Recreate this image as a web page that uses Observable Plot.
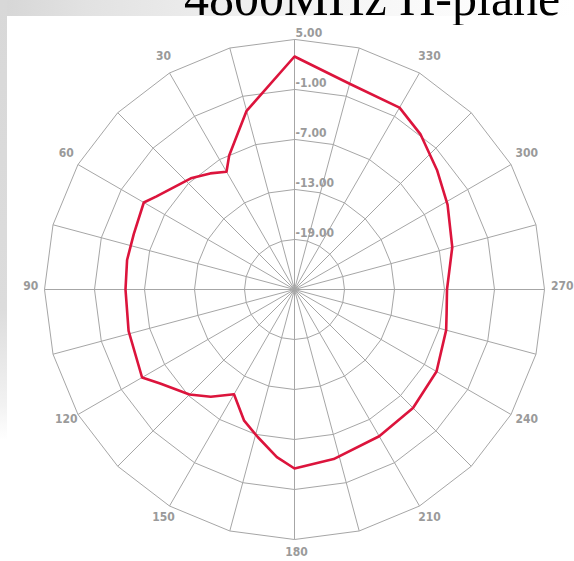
<!DOCTYPE html>
<html>
<head>
<meta charset="utf-8">
<script src="https://cdn.jsdelivr.net/npm/d3@7"></script>
<script src="https://cdn.jsdelivr.net/npm/@observablehq/plot@0.6"></script>
<style>
  html, body { margin: 0; padding: 0; background: #fff; }
  #wrap { position: relative; width: 574px; height: 561px; overflow: hidden; }
  #topstrip { position: absolute; left: 0; top: 0; width: 574px; height: 16px; z-index: 1;
    background: linear-gradient(to right, #d6d6d6 0%, #e2e2e2 15%, #ececec 35%, #f4f4f4 55%, #fafafa 75%, #ffffff 100%); }
  #leftstrip { position: absolute; left: 0; top: 0; width: 7px; height: 440px; z-index: 1;
    background: linear-gradient(to bottom, #d8d8d8 0%, #dcdcdc 70%, #f2f2f2 92%, #ffffff 100%); }
  #titlebox { position: absolute; left: 0; top: 0; width: 574px; height: 25px; overflow: hidden; z-index: 2; }
  #title { position: absolute; left: 184px; top: -22px; font-family: "Liberation Serif", "Times New Roman", serif;
    font-size: 50px; line-height: 40px; height: 40px; color: #000; white-space: nowrap; }
  #chart { position: absolute; left: 0; top: 0; }
</style>
</head>
<body>
<div id="wrap">
  <div id="chart"></div>
  <div id="topstrip"></div>
  <div id="leftstrip"></div>
  <div id="titlebox"><div id="title">4800MHz H-plane</div></div>
</div>
<script>
// ---- data ----
const titleText = "4800MHz H-plane";
const ringValues = [5, -1, -7, -13, -19];
const ringLabels = ["5.00", "-1.00", "-7.00", "-13.00", "-19.00"];
const rMin = -25;
const angleLabelValues = [30, 60, 90, 120, 150, 180, 210, 240, 270, 300, 330];
const angleLabels = ["30", "60", "90", "120", "150", "180", "210", "240", "270", "300", "330"];
const patternAngles = [0, 15, 20, 26, 30, 36, 43, 56, 60, 71, 80, 90, 104, 120, 125, 135, 142, 150, 159, 166, 174, 180, 193, 210, 225, 240, 255, 261, 270, 285, 299, 310, 321, 330, 345];
const patternGain = [2.96, -2.80, -5.08, -7.12, -8.68, -7.78, -6.76, -5.03, -4.12, -4.60, -4.60, -4.72, -4.48, -3.88, -5.32, -7.18, -8.68, -10.48, -8.14, -6.76, -4.77, -3.52, -4.12, -4.67, -4.89, -5.32, -6.16, -6.52, -6.70, -5.40, -4.00, -2.68, -1.00, 0.20, 0.56];

// ---- polar helpers (angle counter-clockwise from top) ----
const spokeAngles = d3.range(0, 360, 15);
function px(theta, v) { return -(v - rMin) * Math.sin(theta * Math.PI / 180); }
function py(theta, v) { return (v - rMin) * Math.cos(theta * Math.PI / 180); }

const ringPts = [];
ringValues.forEach(v => spokeAngles.forEach(a => ringPts.push({ring: v, x: px(a, v), y: py(a, v)})));
const spokes = spokeAngles.map(a => ({x2: px(a, ringValues[0]), y2: py(a, ringValues[0])}));
const pattern = patternAngles.map((a, i) => ({x: px(a, patternGain[i]), y: py(a, patternGain[i])}));
const ringText = ringValues.map((v, i) => ({x: px(0, v), y: py(0, v), t: ringLabels[i]}));
const labelR = ringValues[0] + 1.9;
const angleText = angleLabelValues.map((a, i) => ({x: px(a, labelR), y: py(a, labelR), t: angleLabels[i]}));

const k = 50 / 6; // px per dB
const cx = 294, cy = 289, W = 574, H = 561;

const chart = Plot.plot({
  width: W, height: H,
  margin: 0,
  x: {domain: [-cx / k, (W - cx) / k], axis: null},
  y: {domain: [-(H - cy) / k, cy / k], axis: null},
  style: {fontFamily: "'DejaVu Sans Condensed', 'DejaVu Sans', sans-serif", background: "#fff", overflow: "visible"},
  marks: [
    Plot.line(ringPts, {x: "x", y: "y", z: "ring", curve: "linear-closed", stroke: "#a6a6a6", strokeWidth: 1}),
    Plot.link(spokes, {x1: 0, y1: 0, x2: "x2", y2: "y2", stroke: "#a6a6a6", strokeWidth: 1}),
    Plot.line(pattern, {x: "x", y: "y", curve: "linear-closed", stroke: "#dc143c", strokeWidth: 2.6}),
    Plot.text(ringText, {x: "x", y: "y", text: "t", textAnchor: "start", lineAnchor: "bottom", dx: 1, dy: -3, fill: "#9a9a9a", fontSize: 12, fontWeight: "bold"}),
    Plot.text(angleText, {x: "x", y: "y", text: "t", dx: 2, dy: -3, fill: "#9a9a9a", fontSize: 12, fontWeight: "bold"})
  ]
});
document.getElementById("chart").appendChild(chart);
</script>
</body>
</html>
